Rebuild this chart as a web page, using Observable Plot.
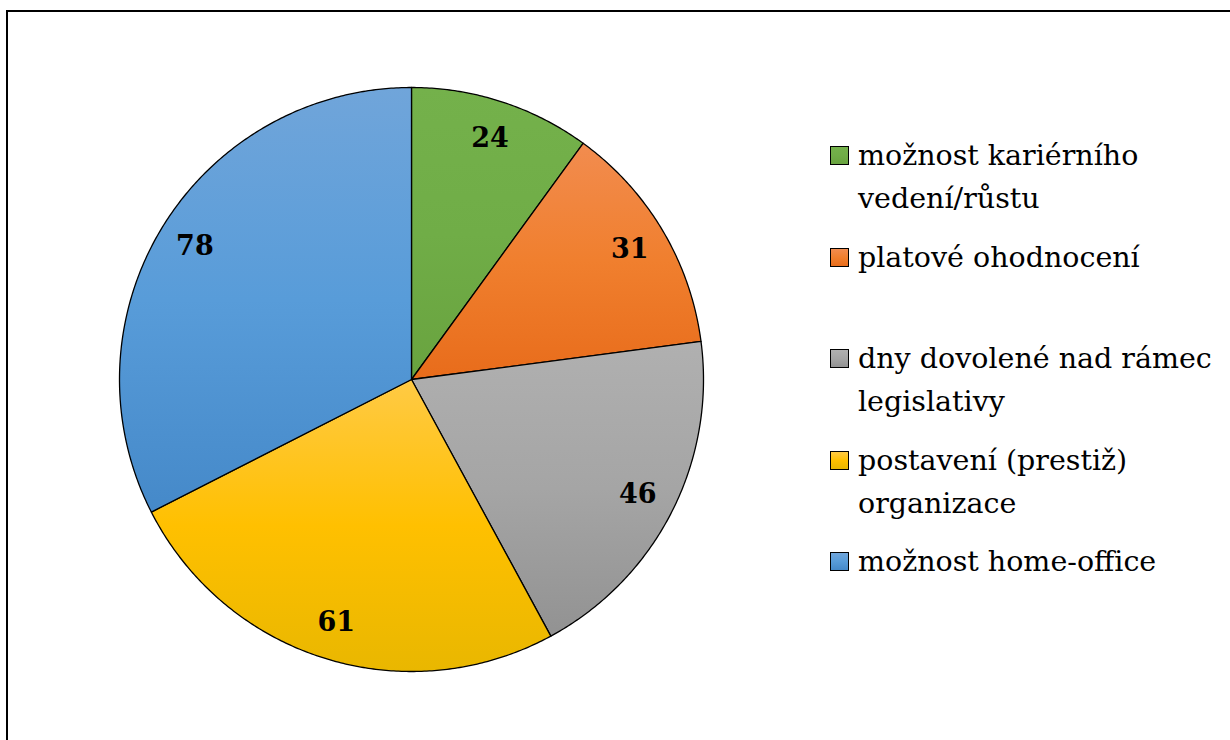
<!DOCTYPE html>
<html><head><meta charset="utf-8">
<script src="https://cdn.jsdelivr.net/npm/d3@7"></script>
<script src="https://cdn.jsdelivr.net/npm/@observablehq/plot@0.6"></script>
<style>
html,body{margin:0;padding:0;background:#fff;overflow:hidden;}
#wrap{position:relative;width:1230px;height:740px;overflow:hidden;}
#frame{position:absolute;left:6px;top:10px;width:1300px;height:800px;border-left:2px solid #000;border-top:2px solid #000;}
#chart{position:absolute;left:0;top:0;}
#legend{position:absolute;left:830px;top:134px;font-family:"DejaVu Serif",serif;font-size:28.5px;line-height:43px;color:#000;white-space:nowrap;}
.item{position:relative;height:101.5px;padding-left:28px;}
.sw{position:absolute;left:0;top:12px;width:17px;height:17px;border:1px solid #000;}
</style></head><body>
<div id="wrap"><div id="frame"></div><div id="chart"></div><div id="legend"></div></div>
<script>
const categories = ["možnost kariérního vedení/růstu", "platové ohodnocení", "dny dovolené nad rámec legislativy", "postavení (prestiž) organizace", "možnost home-office"];
const values = [24, 31, 46, 61, 78];
const legendLines = [["možnost kariérního", "vedení/růstu"], ["platové ohodnocení"], ["dny dovolené nad rámec", "legislativy"], ["postavení (prestiž)", "organizace"], ["možnost home-office"]];
const colorTop = ["#74b14b", "#f28c4f", "#b0b0b0", "#ffca45", "#70a5da"];
const colorMid = ["#70ad47", "#f07f2e", "#a5a5a5", "#ffc000", "#589cd9"];
const colorBottom = ["#69a33f", "#e86c1b", "#929292", "#e9b700", "#4589c9"];

const total = d3.sum(values);
let acc = 0;
const slices = values.map((v, i) => {
  const a0 = acc / total * 2 * Math.PI; acc += v;
  const a1 = acc / total * 2 * Math.PI;
  return {i, v, a0, a1, name: categories[i]};
});
const pt = (a, r) => [r * Math.sin(a), -r * Math.cos(a)];
const features = slices.map(s => {
  const n = Math.max(2, Math.ceil((s.a1 - s.a0) / (Math.PI / 360)));
  const ring = [[0, 0]];
  for (let k = 0; k <= n; k++) ring.push(pt(s.a0 + (s.a1 - s.a0) * k / n, 1));
  ring.push([0, 0]);
  return {type: "Feature", properties: {i: s.i, name: s.name}, geometry: {type: "Polygon", coordinates: [ring]}};
});
const labels = slices.map(s => { const [x, y] = pt((s.a0 + s.a1) / 2, 0.87); return {x, y, v: s.v}; });

const ns = "http://www.w3.org/2000/svg";
const defs = () => {
  const d = document.createElementNS(ns, "defs");
  colorMid.forEach((c, i) => {
    const g = document.createElementNS(ns, "linearGradient");
    g.setAttribute("id", "grad" + i);
    g.setAttribute("x1", "0"); g.setAttribute("y1", "0"); g.setAttribute("x2", "0"); g.setAttribute("y2", "1");
    [[0, colorTop[i]], [0.5, colorMid[i]], [1, colorBottom[i]]].forEach(([o, col]) => {
      const s = document.createElementNS(ns, "stop");
      s.setAttribute("offset", o); s.setAttribute("stop-color", col);
      g.appendChild(s);
    });
    d.appendChild(g);
  });
  return d;
};

const chart = Plot.plot({
  width: 1230, height: 740,
  marginLeft: 119, marginRight: 527, marginTop: 87, marginBottom: 69,
  projection: {type: "identity", domain: {type: "MultiPoint", coordinates: [[-1, -1], [1, 1]]}, clip: false},
  color: {type: "identity"},
  style: {background: "transparent"},
  marks: [
    defs,
    Plot.geo(features, {fill: d => `url(#grad${d.properties.i})`, stroke: "#000", strokeWidth: 1.3}),
    Plot.text(labels, {x: "x", y: "y", text: d => String(d.v), fontSize: 27, fontWeight: "bold", fontFamily: "'DejaVu Serif', serif", fill: "#000"})
  ]
});
document.getElementById("chart").appendChild(chart);

const legend = document.getElementById("legend");
legendLines.forEach((lines, i) => {
  const item = document.createElement("div");
  item.className = "item";
  const sw = document.createElement("div");
  sw.className = "sw";
  sw.style.background = `linear-gradient(to bottom, ${colorTop[i]}, ${colorMid[i]} 50%, ${colorBottom[i]})`;
  item.appendChild(sw);
  lines.forEach(t => { const l = document.createElement("div"); l.textContent = t; item.appendChild(l); });
  legend.appendChild(item);
});
</script>
</body></html>
